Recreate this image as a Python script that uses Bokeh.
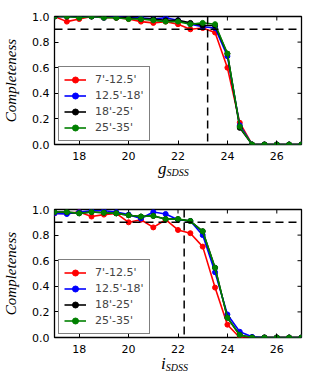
import math
from bokeh.plotting import figure
from bokeh.layouts import column
from bokeh.models import Range1d, Span, Legend, LegendItem, FixedTicker, Div
from bokeh.embed import file_html
from bokeh.resources import INLINE

mags = [17.0, 17.5, 18.0, 18.5, 19.0, 19.5, 20.0, 20.5, 21.0, 21.5, 22.0, 22.5,
        23.0, 23.5, 24.0, 24.5, 25.0, 25.5, 26.0, 26.5, 27.0]

labels = ["7'-12.5'", "12.5'-18'", "18'-25'", "25'-35'"]
colors = ["#ff0000", "#0000ff", "#000000", "#008000"]

g_red = [1.00, 0.96, 0.98, 1.00, 0.99, 0.99, 0.98, 0.96, 0.95, 0.96, 0.94, 0.90,
         0.91, 0.875, 0.60, 0.17, 0.0, 0.0, 0.0, 0.0, 0.0]
g_blue = [1.00, 1.00, 1.00, 1.00, 0.99, 1.00, 0.99, 0.99, 0.98, 0.99, 0.97, 0.94,
          0.92, 0.91, 0.69, 0.15, 0.0, 0.0, 0.0, 0.0, 0.0]
g_black = [1.00, 1.00, 1.00, 1.00, 1.00, 0.99, 0.99, 0.98, 0.98, 0.97, 0.97, 0.95,
           0.93, 0.93, 0.71, 0.13, 0.0, 0.0, 0.0, 0.0, 0.0]
g_green = [1.00, 1.00, 0.99, 1.00, 0.99, 0.99, 0.98, 0.98, 0.97, 0.96, 0.96, 0.94,
           0.95, 0.94, 0.71, 0.14, 0.0, 0.0, 0.0, 0.0, 0.0]

i_red = [0.97, 0.97, 0.98, 0.945, 0.96, 0.97, 0.90, 0.92, 0.86, 0.92, 0.84, 0.815,
         0.71, 0.39, 0.10, 0.0, 0.0, 0.0, 0.0, 0.0, 0.0]
i_blue = [0.97, 0.965, 0.98, 0.99, 0.99, 0.98, 0.96, 0.93, 0.98, 0.965, 0.92, 0.91,
          0.80, 0.51, 0.18, 0.045, 0.005, 0.0, 0.0, 0.0, 0.0]
i_black = [0.98, 0.98, 0.97, 0.98, 0.975, 0.97, 0.955, 0.945, 0.95, 0.925, 0.925, 0.91,
           0.83, 0.545, 0.155, 0.02, 0.0, 0.0, 0.0, 0.0, 0.0]
i_green = [0.98, 0.98, 0.97, 0.98, 0.975, 0.97, 0.955, 0.945, 0.95, 0.925, 0.925, 0.91,
           0.83, 0.545, 0.155, 0.02, 0.0, 0.0, 0.0, 0.0, 0.0]

completeness_level = 0.9
g_limit = 23.2
i_limit = 22.25

x_ticks = [18, 20, 22, 24, 26]
y_ticks = [0.0, 0.2, 0.4, 0.6, 0.8, 1.0]

TICK_FONT = "DejaVu Sans"
SERIF = "Liberation Serif"


def make_panel(series, limit, height, top_border, bottom_border):
    p = figure(width=309, height=height, output_backend="svg", toolbar_location=None,
               x_range=Range1d(17, 27), y_range=Range1d(0, 1),
               min_border_left=53, min_border_right=8,
               min_border_top=top_border, min_border_bottom=bottom_border)
    p.grid.visible = False
    p.outline_line_color = "black"
    p.outline_line_width = 1.3
    p.background_fill_color = "white"
    p.border_fill_color = "white"

    p.xaxis.ticker = FixedTicker(ticks=x_ticks)
    p.yaxis.ticker = FixedTicker(ticks=y_ticks)
    p.yaxis.major_label_overrides = {v: f"{v:.1f}" for v in y_ticks}
    for ax in p.xaxis + p.yaxis:
        ax.axis_line_color = None
        ax.major_tick_in = 4
        ax.major_tick_out = 0
        ax.minor_tick_line_color = None
        ax.major_tick_line_color = "black"
        ax.major_label_text_font = TICK_FONT
        ax.major_label_text_font_size = "11px"
        ax.major_label_text_color = "black"
    p.xaxis.major_label_standoff = 7
    p.yaxis.major_label_standoff = 5
    p.yaxis.axis_label = "Completeness"
    p.yaxis.axis_label_text_font = SERIF
    p.yaxis.axis_label_text_font_style = "italic"
    p.yaxis.axis_label_text_font_size = "15px"
    p.yaxis.axis_label_text_color = "black"
    p.yaxis.axis_label_standoff = 10

    # inward ticks on the top and right edges
    p.ray(x=x_ticks, y=[1.0] * len(x_ticks), length=4, length_units="screen",
          angle=-math.pi / 2, line_color="black", line_width=1)
    p.ray(x=[27.0] * len(y_ticks), y=y_ticks, length=4, length_units="screen",
          angle=math.pi, line_color="black", line_width=1)

    items = []
    for vals, lab, col in zip(series, labels, colors):
        r1 = p.line(mags, vals, line_color=col, line_width=1.6)
        r2 = p.scatter(mags, vals, size=5, fill_color=col, line_color=col)
        items.append(LegendItem(label=lab, renderers=[r1, r2]))

    p.add_layout(Span(location=completeness_level, dimension="width", line_color="black",
                      line_dash="8 5", line_width=1.5))
    p.add_layout(Span(location=limit, dimension="height", line_color="black",
                      line_dash="8 5", line_width=1.5))

    leg = Legend(items=items, location=(4, 3), margin=0, padding=5, spacing=1,
                 glyph_width=22, glyph_height=15, label_height=15, label_standoff=9,
                 label_text_font=TICK_FONT, label_text_font_size="11px",
                 border_line_color="black", border_line_width=1.3,
                 background_fill_alpha=1.0)
    p.add_layout(leg, "center")
    return p


def x_label(sym, left, top, height):
    html = (f'<div style="position:relative; top:{top}px; padding-left:{left}px; '
            f'line-height:17px; white-space:nowrap; font-family:\'{SERIF}\'; '
            f'font-style:italic; font-size:17px; color:black;">{sym}'
            f'<span style="font-size:10px; vertical-align:-2px;">SDSS</span></div>')
    return Div(text=html, width=309, height=height, margin=0)


p1 = make_panel([g_red, g_blue, g_black, g_green], g_limit, 164, 16, 20)
d1 = x_label("g", 158, -4, 26)
p2 = make_panel([i_red, i_blue, i_black, i_green], i_limit, 167, 19, 20)
d2 = x_label("i", 161, -2, 24)

p = column(p1, d1, p2, d2, spacing=0)
open("out.html", "w").write(file_html(p, INLINE))
